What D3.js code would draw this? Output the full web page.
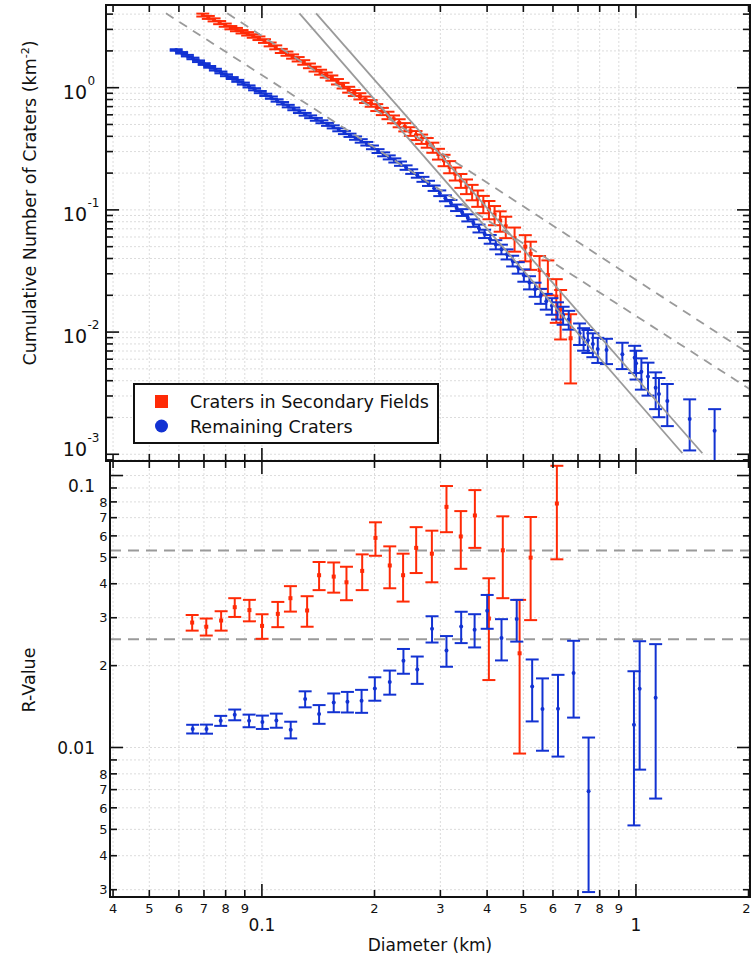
<!DOCTYPE html>
<html><head><meta charset="utf-8">
<script src="https://cdn.jsdelivr.net/npm/d3@7"></script>
<style>
html,body{margin:0;padding:0;background:#fff;}
svg{display:block;}
</style></head><body>
<svg id="chart" width="751" height="968"></svg>
<script>
// ---------------- DATA ----------------
// Top panel: cumulative crater density (km^-2) vs diameter (km)
const redDiam = [0.0695,0.0719,0.0745,0.0771,0.0798,0.0826,0.0855,0.0885,0.0916,0.0948,0.0982,0.1016,0.1052,0.1089,0.1127,0.1167,0.1208,0.1250,0.1294,0.1340,0.1387,0.1435,0.1486,0.1538,0.1592,0.1648,0.1706,0.1766,0.1828,0.1892,0.1959,0.2028,0.2099,0.2173,0.2249,0.2328,0.2410,0.2495,0.2582,0.2673,0.2767,0.2864,0.2965,0.3069,0.3177,0.3289,0.3404,0.3524,0.3648,0.3776,0.3908,0.4046,0.4188,0.4335,0.4487,0.4737,0.506,0.5228,0.5525,0.5815,0.6124,0.6289,0.6688];
const redDens = [3.93,3.76,3.59,3.41,3.25,3.10,2.99,2.87,2.76,2.65,2.54,2.41,2.26,2.14,2.00,1.90,1.80,1.71,1.61,1.51,1.42,1.34,1.27,1.20,1.12,1.04,0.964,0.906,0.851,0.798,0.745,0.689,0.640,0.594,0.552,0.513,0.476,0.439,0.407,0.380,0.355,0.324,0.287,0.255,0.225,0.198,0.174,0.156,0.140,0.125,0.112,0.101,0.0912,0.0818,0.0733,0.0586,0.050,0.0436,0.0322,0.0293,0.0195,0.0154,0.0089];
const redErr = [0.107,0.105,0.102,0.0999,0.0975,0.0952,0.0935,0.0916,0.0898,0.0880,0.0862,0.0839,0.0813,0.0791,0.0765,0.0745,0.0725,0.0707,0.0686,0.0664,0.0644,0.0626,0.0609,0.0592,0.0572,0.0551,0.0531,0.0515,0.0499,0.0483,0.0467,0.0449,0.0433,0.0417,0.0402,0.0387,0.0373,0.0358,0.0345,0.0333,0.0322,0.0308,0.0290,0.0273,0.0256,0.0241,0.0226,0.0214,0.0202,0.0191,0.0181,0.0172,0.0163,0.0155,0.0146,0.0131,0.0121,0.0113,0.0097,0.0093,0.0076,0.0067,0.0051];

const blueDiam = [0.0590,0.0610,0.0632,0.0654,0.0677,0.0701,0.0725,0.0751,0.0777,0.0804,0.0833,0.0862,0.0892,0.0924,0.0956,0.0990,0.1024,0.1060,0.1098,0.1136,0.1176,0.1217,0.1260,0.1305,0.1350,0.1398,0.1447,0.1498,0.1551,0.1605,0.1662,0.1720,0.1780,0.1843,0.1908,0.1975,0.2044,0.2116,0.2190,0.2267,0.2347,0.2429,0.2515,0.2603,0.2695,0.2789,0.2887,0.2989,0.3094,0.3202,0.3315,0.3431,0.3552,0.3676,0.3805,0.3939,0.4077,0.4220,0.4369,0.4522,0.4681,0.4845,0.5016,0.5192,0.5374,0.5563,0.5758,0.5961,0.6170,0.6387,0.6611,0.7068,0.7245,0.7439,0.7670,0.7906,0.8343,0.9197,0.992,1.0007,1.034,1.077,1.129,1.152,1.213,1.392,1.623];
const blueDens = [2.035,1.930,1.829,1.735,1.646,1.561,1.481,1.405,1.333,1.264,1.199,1.138,1.080,1.024,0.971,0.921,0.874,0.829,0.786,0.746,0.707,0.670,0.636,0.606,0.578,0.551,0.526,0.501,0.478,0.453,0.430,0.408,0.387,0.367,0.348,0.325,0.303,0.285,0.269,0.254,0.239,0.222,0.206,0.192,0.178,0.165,0.1506,0.1370,0.1246,0.1139,0.1042,0.0953,0.0863,0.0781,0.0706,0.0638,0.0576,0.0520,0.0476,0.0434,0.0383,0.0337,0.0292,0.0255,0.0224,0.0198,0.0179,0.0164,0.0151,0.0138,0.0127,0.0098,0.0089,0.00857,0.0080,0.00728,0.00714,0.00658,0.00617,0.00556,0.00474,0.00432,0.00351,0.00311,0.00273,0.001945,0.00156];
const blueErr = [0.0282,0.0274,0.0267,0.0260,0.0253,0.0247,0.0240,0.0234,0.0228,0.0222,0.0216,0.0211,0.0205,0.0200,0.0195,0.0190,0.0185,0.0180,0.0175,0.0171,0.0166,0.0162,0.0157,0.0154,0.0150,0.0147,0.0143,0.0140,0.0137,0.0133,0.0130,0.0126,0.0123,0.0120,0.0117,0.0113,0.0109,0.0105,0.0102,0.00995,0.00966,0.00930,0.00896,0.00865,0.00833,0.00802,0.00766,0.00731,0.00697,0.00667,0.00637,0.00610,0.00580,0.00552,0.00525,0.00499,0.00474,0.00450,0.00431,0.00411,0.00386,0.00363,0.00337,0.00315,0.00296,0.00278,0.00264,0.00253,0.00243,0.00232,0.00223,0.00196,0.00186,0.00183,0.00177,0.00169,0.00167,0.00160,0.00155,0.00147,0.00136,0.00130,0.00117,0.00110,0.00103,0.00087,0.00078];

// Reference power-law lines in the top panel (two end points each)
const refLineDiam = [[0.0554, 2.018], [0.0808, 2.018], [0.1260, 1.331], [0.1396, 1.505]];
const refLineDens = [[4.06, 0.0034], [4.06, 0.0066], [4.06, 0.00102], [4.06, 0.00102]];
const refLineDashed = [true, true, false, false];

// Bottom panel: R-values
const redRDiam = [0.0651,0.0710,0.0778,0.0846,0.0926,0.1001,0.1103,0.1192,0.1321,0.1422,0.1556,0.1683,0.1854,0.2012,0.2197,0.2385,0.2585,0.2847,0.3115,0.3402,0.3710,0.4044,0.4406,0.4886,0.5229,0.6146];
const redR = [0.0288,0.0278,0.0293,0.0328,0.0320,0.0280,0.0310,0.0354,0.0319,0.0430,0.0425,0.0405,0.0446,0.0590,0.0467,0.0430,0.0542,0.0516,0.0767,0.0597,0.0713,0.0298,0.0531,0.0222,0.0499,0.0789];
const redRErr = [0.0019,0.0020,0.0024,0.0026,0.0029,0.0029,0.0033,0.0038,0.0041,0.0051,0.0054,0.0057,0.0067,0.0083,0.0082,0.0086,0.0104,0.0111,0.0148,0.0143,0.0171,0.0121,0.0177,0.0127,0.0205,0.0297];
const blueRDiam = [0.0653,0.0711,0.0776,0.0846,0.0924,0.1003,0.1093,0.1194,0.1305,0.1422,0.1556,0.1693,0.1847,0.2004,0.2197,0.2390,0.2602,0.2850,0.3115,0.3410,0.3704,0.4002,0.4371,0.4800,0.5279,0.5625,0.6189,0.6812,0.7471,0.9878,1.0230,1.1290];
const blueR = [0.01169,0.01169,0.01254,0.01319,0.01254,0.01240,0.01257,0.01162,0.01507,0.01327,0.01464,0.01473,0.01485,0.01649,0.01741,0.02085,0.01937,0.02735,0.02275,0.02788,0.02712,0.03185,0.02527,0.02970,0.01677,0.01384,0.01388,0.01878,0.00691,0.01212,0.01644,0.01524];
const blueRErr = [0.00043,0.00045,0.00053,0.00060,0.00067,0.00070,0.00075,0.00082,0.00102,0.00105,0.00116,0.00128,0.00144,0.00163,0.00177,0.00218,0.00223,0.00303,0.00294,0.00368,0.00379,0.00453,0.00437,0.00519,0.00430,0.00411,0.00462,0.00590,0.00397,0.00695,0.00815,0.00875];
const rRefLevels = [0.053, 0.025];

// Tick labels
const topYTickVals = [1, 0.1, 0.01, 0.001];
const topYTickExp = ["0", "-1", "-2", "-3"];
const botYMajorVals = [0.1, 0.01];
const botYMajorLabels = ["0.1", "0.01"];
const xMajorVals = [0.1, 1];
const xMajorLabels = ["0.1", "1"];
const legendLabels = ["Craters in Secondary Fields", "Remaining Craters"];

// ---------------- DRAWING ----------------
const FONT = '"DejaVu Sans", Verdana, sans-serif';
const RED = "#ff2a06", BLUE = "#1232d2", GRAY = "#9a9a9a";
const svg = d3.select("#chart").style("font-family", FONT);

const x = d3.scaleLog().domain([0.0383, 2.018]).range([106, 750]);
const yTop = d3.scaleLog().domain([0.000881, 4.75]).range([461, 5]);
const yBot = d3.scaleLog().domain([0.00282, 0.1131]).range([897, 461]);

const panels = [
  {id: "top", x0: 106, x1: 750, y0: 5, y1: 461, y: yTop},
  {id: "bot", x0: 110, x1: 750, y0: 461, y1: 897, y: yBot}
];
const isMajor = v => Math.abs(Math.log10(v) - Math.round(Math.log10(v))) < 1e-6;
const defs = svg.append("defs");

panels.forEach(p => {
  defs.append("clipPath").attr("id", "clip-" + p.id)
    .append("rect").attr("x", p.x0).attr("y", p.y0)
    .attr("width", p.x1 - p.x0).attr("height", p.y1 - p.y0);
  const g = svg.append("g").attr("class", "grid");
  const xt = x.ticks().filter(v => x(v) > p.x0 + 1 && x(v) < p.x1 - 1);
  g.selectAll("line.vx").data(xt).join("line")
    .attr("x1", d => x(d)).attr("x2", d => x(d))
    .attr("y1", p.y0).attr("y2", p.y1)
    .attr("stroke", "#dcdcdc").attr("stroke-width", 1).attr("stroke-dasharray", "2,2");
  const yt = p.y.ticks().filter(v => p.y(v) > p.y0 + 1 && p.y(v) < p.y1 - 1);
  g.selectAll("line.hy").data(yt).join("line")
    .attr("x1", p.x0).attr("x2", p.x1)
    .attr("y1", d => p.y(d)).attr("y2", d => p.y(d))
    .attr("stroke", "#dcdcdc").attr("stroke-width", 1).attr("stroke-dasharray", "2,2");
});

function drawErrorBars(g, diam, val, err, yS, yBottom, color, shape) {
  const idx = d3.range(diam.length);
  const lo = i => (val[i] - err[i] > 0 ? yS(val[i] - err[i]) : yBottom + 20);
  const hi = i => yS(val[i] + err[i]);
  g.selectAll(null).data(idx).join("line")
    .attr("x1", i => x(diam[i])).attr("x2", i => x(diam[i]))
    .attr("y1", lo).attr("y2", hi)
    .attr("stroke", color).attr("stroke-width", 2);
  [lo, hi].forEach(fy => {
    g.selectAll(null).data(idx).join("line")
      .attr("x1", i => x(diam[i]) - 6.5).attr("x2", i => x(diam[i]) + 6.5)
      .attr("y1", fy).attr("y2", fy)
      .attr("stroke", color).attr("stroke-width", 2);
  });
  if (shape === "square") {
    g.selectAll(null).data(idx).join("rect")
      .attr("x", i => x(diam[i]) - 2).attr("y", i => yS(val[i]) - 2)
      .attr("width", 4).attr("height", 4).attr("fill", color);
  } else {
    g.selectAll(null).data(idx).join("circle")
      .attr("cx", i => x(diam[i])).attr("cy", i => yS(val[i]))
      .attr("r", 2).attr("fill", color);
  }
}

// Top panel data
const gTop = svg.append("g").attr("clip-path", "url(#clip-top)");
drawErrorBars(gTop.append("g"), redDiam, redDens, redErr, yTop, 461, RED, "square");
drawErrorBars(gTop.append("g"), blueDiam, blueDens, blueErr, yTop, 461, BLUE, "circle");
gTop.append("g").selectAll("line").data(d3.range(refLineDiam.length)).join("line")
  .attr("x1", i => x(refLineDiam[i][0])).attr("y1", i => yTop(refLineDens[i][0]))
  .attr("x2", i => x(refLineDiam[i][1])).attr("y2", i => yTop(refLineDens[i][1]))
  .attr("stroke", GRAY).attr("stroke-width", 1.8)
  .attr("stroke-dasharray", i => refLineDashed[i] ? "9,7" : null);

// Bottom panel data
const gBot = svg.append("g").attr("clip-path", "url(#clip-bot)");
gBot.append("g").selectAll("line").data(rRefLevels).join("line")
  .attr("x1", 110).attr("x2", 750)
  .attr("y1", d => yBot(d)).attr("y2", d => yBot(d))
  .attr("stroke", GRAY).attr("stroke-width", 1.8).attr("stroke-dasharray", "11,7");
drawErrorBars(gBot.append("g"), redRDiam, redR, redRErr, yBot, 897, RED, "square");
drawErrorBars(gBot.append("g"), blueRDiam, blueR, blueRErr, yBot, 897, BLUE, "circle");

// Axes frames and ticks
const axG = svg.append("g");
panels.forEach(p => {
  axG.append("rect").attr("x", p.x0).attr("y", p.y0)
    .attr("width", p.x1 - p.x0).attr("height", p.y1 - p.y0)
    .attr("fill", "none").attr("stroke", "#111").attr("stroke-width", 2);
  const xt = x.ticks().filter(v => x(v) >= p.x0 - 0.5 && x(v) <= p.x1 + 0.5);
  [[p.y0, 1], [p.y1, -1]].forEach(([yy, dir]) => {
    axG.append("g").selectAll("line").data(xt).join("line")
      .attr("x1", d => x(d)).attr("x2", d => x(d))
      .attr("y1", yy).attr("y2", d => yy + dir * (isMajor(d) ? 13 : 7))
      .attr("stroke", "#111").attr("stroke-width", 1.6);
  });
  const yt = p.y.ticks().filter(v => p.y(v) >= p.y0 - 0.5 && p.y(v) <= p.y1 + 0.5);
  [[p.x0, 1], [p.x1, -1]].forEach(([xx, dir]) => {
    axG.append("g").selectAll("line").data(yt).join("line")
      .attr("y1", d => p.y(d)).attr("y2", d => p.y(d))
      .attr("x1", xx).attr("x2", d => xx + dir * (isMajor(d) ? 13 : 7))
      .attr("stroke", "#111").attr("stroke-width", 1.6);
  });
});

// Top panel y tick labels (10^n)
const lab = svg.append("g").attr("fill", "#111");
topYTickVals.forEach((v, i) => {
  const base = Math.min(yTop(v) + 11.4, 456);
  lab.append("text").attr("x", 87).attr("y", base).attr("text-anchor", "end")
    .attr("font-size", 19).text("10");
  lab.append("text").attr("x", 87.5).attr("y", base - 14).attr("text-anchor", "start")
    .attr("font-size", 12).text(topYTickExp[i]);
});

// Bottom panel y tick labels
botYMajorVals.forEach((v, i) => {
  lab.append("text").attr("x", 95).attr("y", Math.max(yBot(v) + 6.2, 492))
    .attr("text-anchor", "end").attr("font-size", 17).text(botYMajorLabels[i]);
});
yBot.ticks().filter(v => !isMajor(v)).forEach(v => {
  const digit = Math.round(v / Math.pow(10, Math.floor(Math.log10(v) + 1e-9)));
  if (digit === 9) return;
  lab.append("text").attr("x", 107.5).attr("y", yBot(v) + 4.7)
    .attr("text-anchor", "end").attr("font-size", 13).text(digit);
});

// X tick labels (the last one is kept inside the page edge)
x.ticks().filter(v => !isMajor(v)).forEach(v => {
  const digit = Math.round(v / Math.pow(10, Math.floor(Math.log10(v) + 1e-9)));
  const near = x(v) > 745;
  lab.append("text").attr("x", near ? 750.5 : x(v)).attr("y", 912.7)
    .attr("text-anchor", near ? "end" : "middle").attr("font-size", 13).text(digit);
});
xMajorVals.forEach((v, i) => {
  lab.append("text").attr("x", x(v)).attr("y", 931)
    .attr("text-anchor", "middle").attr("font-size", 17).text(xMajorLabels[i]);
});

// Axis titles
lab.append("text").attr("x", 430).attr("y", 951).attr("text-anchor", "middle")
  .attr("font-size", 17).text("Diameter (km)");
const yt1 = lab.append("text").attr("transform", "translate(36,203) rotate(-90)")
  .attr("text-anchor", "middle").attr("font-size", 17.5);
yt1.append("tspan").text("Cumulative Number of Craters (km");
yt1.append("tspan").attr("dy", -7).attr("font-size", 11).text("-2");
yt1.append("tspan").attr("dy", 7).text(")");
lab.append("text").attr("transform", "translate(35,680) rotate(-90)")
  .attr("text-anchor", "middle").attr("font-size", 17.5).text("R-Value");

// Legend
const lg = svg.append("g");
lg.append("rect").attr("x", 134).attr("y", 384).attr("width", 304).attr("height", 59)
  .attr("fill", "#fff").attr("stroke", "#111").attr("stroke-width", 2);
lg.append("rect").attr("x", 155).attr("y", 395).attr("width", 13).attr("height", 13).attr("fill", RED);
lg.append("circle").attr("cx", 161.5).attr("cy", 426).attr("r", 6.5).attr("fill", BLUE);
lg.selectAll("text").data(legendLabels).join("text")
  .attr("x", 190).attr("y", (d, i) => 408 + i * 24.5)
  .attr("font-size", 17.5).attr("fill", "#111").text(d => d);
</script>
</body></html>
